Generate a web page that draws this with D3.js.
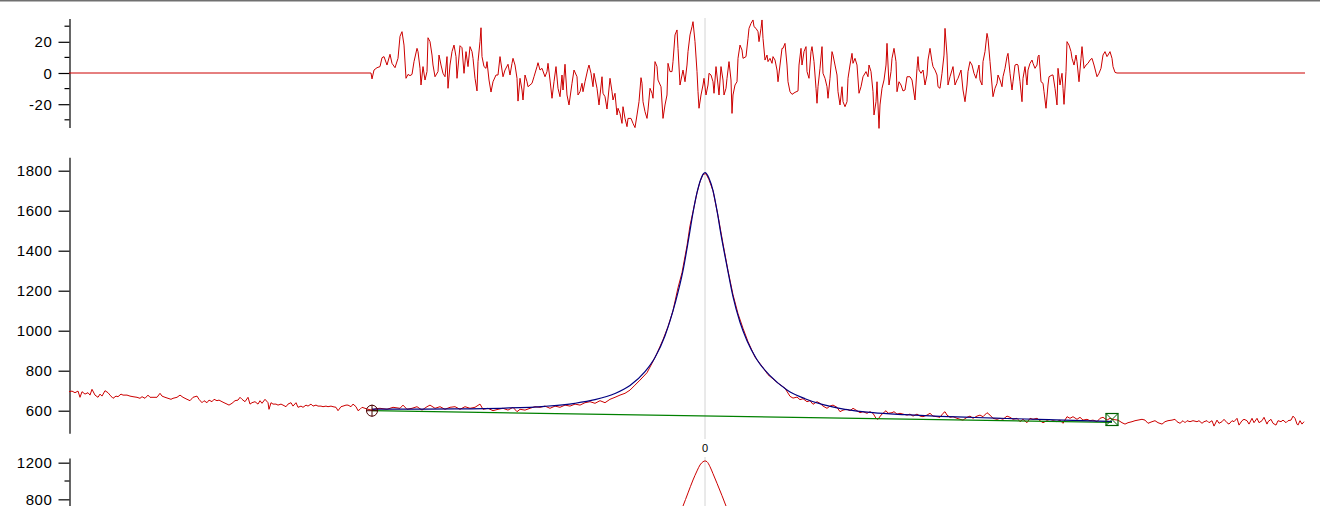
<!DOCTYPE html>
<html><head><meta charset="utf-8">
<script src="https://cdn.jsdelivr.net/npm/d3@7"></script>
<style>
html,body{margin:0;padding:0;background:#fff;overflow:hidden}
svg{display:block}
.tick text{font-family:"Liberation Sans",Arial,sans-serif;font-size:15px;letter-spacing:0.6px;fill:#000}
</style></head><body>
<svg id="c" width="1320" height="506"></svg>
<script>
// ---- data (x in channels relative to peak centre) ----
const xDomain = [-636, 600];
const xLabelTicks = [0];
const topTicks = [-20, 0, 20];
const topMinorTicks = [-30, -10, 10, 30];
const midTicks = [600, 800, 1000, 1200, 1400, 1600, 1800];
const bottomTicks = [800, 1200];
const bottomMinorTicks = [1000];

const residual = [
[-636,0],[-334,0],[-333,-3.8],[-331,1.9],[-328,3.4],[-325,4.1],[-323,9.8],[-321,10.5],[-318,5.1],[-315,12.0],[-313,6.2],[-310,3.4],[-307,9.4],[-305,23.5],[-303,26.5],[-301,17.9],[-299,-3.4],[-297,-0.9],[-295,-1.7],[-293,-0.9],[-291,7.3],[-288,15.8],[-287,13.7],[-285,3.0],[-284,-7.7],[-282,4.1],[-280,-4.5],[-278,0.9],[-277,22.6],[-275,20.1],[-273,11.5],[-272,5.1],[-270,-2.4],[-267,0.9],[-266,11.5],[-264,5.1],[-262,-0.2],[-260,-2.4],[-258,10.5],[-257,-9.8],[-255,5.1],[-253,13.7],[-251,17.9],[-249,10.5],[-248,-3.4],[-245,17.5],[-243,16.2],[-241,-0.2],[-239,13.7],[-237,4.1],[-235,16.9],[-233,13.7],[-232,9.4],[-230,-3.4],[-228,-11.5],[-227,7.3],[-225,20.1],[-224,29.0],[-223,10.5],[-221,4.1],[-219,3.0],[-218,7.3],[-216,-4.5],[-214,-12.2],[-212,-5.6],[-209,-1.3],[-207,-1.3],[-205,10.5],[-203,1.9],[-202,-2.4],[-200,1.9],[-197,5.6],[-195,-1.3],[-193,6.2],[-192,9.4],[-190,5.1],[-188,-3.4],[-187,-18.0],[-185,-3.4],[-183,-10.9],[-182,-17.3],[-180,-1.3],[-178,-5.6],[-177,-8.8],[-173,-6.6],[-171,-2.4],[-168,4.1],[-167,6.6],[-165,1.9],[-163,3.0],[-160,-2.4],[-158,0.9],[-157,6.2],[-155,-4.5],[-153,-16.2],[-151,-5.6],[-149,4.1],[-147,-9.8],[-145,-15.2],[-143,-1.3],[-142,-10.9],[-140,5.6],[-138,-14.1],[-136,-20.5],[-133,-6.6],[-131,1.9],[-128,-2.4],[-127,-14.1],[-125,-12.0],[-123,-6.6],[-122,-12.0],[-120,-5.6],[-117,3.0],[-116,5.1],[-114,-0.2],[-112,-8.8],[-111,-0.2],[-108,-9.8],[-106,-20.5],[-103,-2.4],[-102,-13.0],[-100,-15.2],[-98,-23.1],
[-95,-3.4],[-93,-12.0],[-92,-17.3],[-90,-13.0],[-88,-26.9],[-87,-22.6],[-85,-25.9],[-83,-32.3],[-82,-21.6],[-80,-29.1],[-78,-34.4],[-77,-29.1],[-74,-29.1],[-72,-32.3],[-70,-35.0],[-68,-26.9],[-66,-18.4],[-64,-3.0],[-63,-6.6],[-62,-18.4],[-60,-24.8],[-58,-29.1],[-57,-23.7],[-55,-9.8],[-53,-13.0],[-52,-16.2],[-50,7.3],[-48,4.1],[-47,-4.5],[-44,-8.8],[-42,-29.1],[-40,-20.5],[-38,-14.1],[-37,6.2],[-35,0.9],[-33,0.9],[-32,7.3],[-30,24.4],[-28,27.6],[-27,15.8],[-25,-7.7],[-23,-1.3],[-22,1.9],[-20,-5.6],[-18,5.1],[-17,13.7],[-15,24.4],[-13,29.7],[-12,32.9],[-10,20.1],[-8,0.9],[-7,-12.0],[-6,-22.6],[-4,-14.1],[-2,-7.7],[-1,-3.4],[1,-14.1],[3,-7.7],[4,-0.2],[6,-1.3],[8,-5.6],[9,-13.0],[11,4.1],[13,-7.7],[14,-14.1],[16,4.1],[18,-4.5],[19,-14.1],[21,-9.8],[22,-3.4],[24,7.3],[26,-4.5],[27,-25.9],[28,-14.1],[30,-7.7],[32,-5.6],[33,9.4],[35,17.9],[37,14.7],[38,9.4],[41,10.5],[43,22.2],[44,28.6],[46,31.8],[48,34.0],[49,29.7],[51,28.6],[53,26.5],[54,20.1],[56,28.6],[57,34.0],[58,22.2],[60,8.3],[62,11.5],[63,7.3],[65,9.4],[67,6.2],[68,10.5],[70,8.3],[72,1.9],[73,-5.6],[75,5.1],[77,15.8],[78,15.8],[80,19.0],[82,5.1],[83,-5.6],[85,-12.0],[87,-13.7],[90,-12.4],[93,-11.5],[94,5.1],[96,15.8],[97,5.1],[99,13.7],[101,16.9],[102,0.9],[104,-3.4],[106,13.7],[107,16.9],[109,7.3],[111,-9.8],[112,-19.4],[113,-8.8],[115,3.0],[117,16.9],[118,-0.2],[120,-3.4],[122,-8.8],[123,-16.2],[125,-3.4],[127,13.7],[128,11.5],[130,5.1],[132,-1.3],[133,-12.0],[135,-20.5],[137,-8.8],[138,-18.4],[140,-21.6],[142,-18.4],[143,-3.4],[145,5.1],[147,12.6],[148,6.2],[150,9.4],
[152,5.1],[154,-13.0],[156,-8.8],[158,-2.4],[161,0.9],[163,-2.4],[164,5.1],[166,0.9],[168,-12.0],[169,-26.9],[171,-18.4],[172,-5.6],[174,-35.5],[175,-20.5],[177,-9.8],[179,-4.5],[181,5.1],[182,19.0],[184,-7.7],[186,0.9],[187,9.4],[189,15.8],[191,7.3],[192,-12.0],[194,-5.6],[196,-7.7],[198,-11.5],[200,-10.9],[202,-2.4],[205,-2.4],[207,-4.5],[210,-17.3],[212,3.0],[213,10.5],[214,1.9],[216,-0.2],[218,1.9],[220,-7.7],[222,-1.3],[223,8.3],[225,15.8],[227,7.3],[228,4.1],[230,1.9],[232,-1.3],[233,-8.8],[235,-9.8],[237,-0.2],[239,11.5],[240,28.6],[242,11.5],[243,-7.7],[245,-2.4],[247,1.9],[248,4.1],[250,-7.7],[252,-4.5],[253,-3.4],[256,1.9],[258,-10.9],[260,-18.4],[262,-7.7],[263,0.9],[265,7.3],[267,5.1],[269,-0.2],[271,-3.4],[272,-0.2],[274,5.1],[275,-4.5],[277,-7.7],[278,7.3],[280,13.7],[282,25.4],[283,22.2],[285,7.3],[287,-7.7],[288,-15.2],[290,-9.8],[292,-6.6],[293,-1.3],[295,-4.5],[297,-8.8],[298,-2.4],[300,3.0],[302,10.5],[303,12.6],[305,-0.2],[307,-10.9],[308,-5.6],[310,5.1],[312,5.6],[313,5.1],[315,-5.6],[317,-18.4],[318,-3.4],[320,4.1],[322,-7.7],[323,1.9],[325,6.2],[327,8.3],[328,6.2],[330,3.0],[332,5.1],[333,10.5],[334,11.5],[336,-5.6],[338,-6.6],[339,-12.0],[341,-22.6],[343,-7.7],[344,-2.4],[347,-1.3],[348,-1.3],[350,-9.8],[352,-20.5],[353,3.0],[355,-7.7],[357,-0.2],[358,-9.8],[359,-20.1],[361,0.9],[362,20.1],[364,17.9],[366,13.7],[367,9.4],[369,5.1],[371,11.5],[372,7.3],[374,-5.6],[376,9.4],[377,16.9],[379,3.0],[381,5.1],[383,6.2],[385,8.3],[387,9.4],[389,5.1],[392,-2.4],[394,-0.2],[396,3.0],[398,11.5],[400,13.7],[402,10.5],[403,11.5],[405,13.7],[407,9.4],[408,4.1],[410,0.4],[412,0],[600,0]
];

const spectrum = [
[-636,695],[-633,698],[-630,690],[-627,698],[-625,667],[-623,695],[-620,683],[-617,690],[-615,678],[-613,707],[-610,678],[-607,667],[-605,683],[-603,673],[-600,700],[-597,690],[-595,678],[-592,662],[-589,673],[-587,670],[-584,683],[-582,678],[-578,678],[-575,673],[-572,670],[-568,667],[-565,662],[-563,670],[-560,662],[-557,678],[-555,667],[-552,667],[-548,667],[-545,687],[-543,673],[-540,667],[-537,662],[-534,657],[-532,662],[-528,667],[-525,678],[-522,667],[-518,657],[-515,650],[-512,667],[-508,673],[-506,657],[-503,640],[-501,650],[-498,640],[-496,653],[-493,645],[-491,657],[-488,650],[-486,653],[-483,645],[-481,640],[-478,633],[-476,628],[-473,637],[-470,650],[-467,653],[-465,667],[-463,657],[-460,645],[-457,667],[-455,633],[-453,640],[-450,645],[-447,633],[-445,650],[-443,637],[-440,657],[-437,640],[-436,607],[-434,640],[-432,633],[-429,633],[-427,628],[-424,633],[-422,628],[-419,620],[-417,633],[-414,640],[-412,623],[-409,640],[-407,617],[-404,623],[-402,617],[-399,628],[-397,623],[-394,633],[-392,623],[-389,628],[-387,623],[-384,623],[-382,620],[-379,623],[-377,620],[-374,623],[-372,620],[-369,617],[-367,600],[-364,620],[-362,623],[-359,628],[-357,628],[-354,620],[-352,633],[-349,620],[-347,600],[-345,607],[-343,617],[-340,612],[-337,607],[-333,603],
[-329,610],[-325,612],[-318,607],[-312,617],[-305,612],[-302,628],[-298,607],[-293,612],[-288,620],[-283,603],[-278,620],[-275,628],[-270,612],[-265,620],[-260,607],[-255,617],[-250,620],[-245,607],[-240,620],[-235,612],[-230,617],[-225,633],[-222,607],[-217,612],[-212,600],[-207,607],[-202,612],[-197,603],[-192,617],[-188,595],[-185,607],[-180,603],[-175,612],[-170,620],[-165,617],[-160,623],[-155,612],[-150,623],[-145,617],[-140,628],[-135,623],[-130,633],[-125,628],[-120,640],[-115,645],[-110,637],[-105,650],[-100,640],[-95,657],[-90,667],[-85,678],[-80,687],[-75,703],[-70,728],
[-65,753],[-58,790],[-53,837],[-48,887],[-42,955],[-37,1020],[-32,1100],[-27,1215],[-23,1290],[-18,1425],[-15,1525],[-12,1595],[-8,1690],[-5,1745],[-2,1782],[1,1785],[4,1755],[8,1700],[13,1575],[18,1435],[23,1300],[28,1180],[33,1085],[38,1012],[43,945],[50,868],[57,822],[63,780],[72,742],[80,712],
[85,672],[88,663],[92,668],[95,655],[98,660],[102,645],[105,650],[108,632],[112,645],[115,637],[118,623],[122,612],[125,623],[128,628],[132,617],[135,595],[138,603],[142,607],[145,600],[148,612],[152,600],[155,590],[158,595],[162,587],[165,595],[168,587],[171,562],[173,557],[176,578],[178,587],[181,600],[183,587],[187,590],[189,595],[192,583],[195,587],[198,583],[202,578],[205,583],[208,573],[212,583],[215,573],[218,570],[222,578],[225,587],[228,573],[232,570],[235,567],[238,587],[240,595],[242,578],[245,567],[248,570],[252,562],[255,557],[258,553],[262,567],[265,573],[268,562],[272,573],[275,578],[278,570],[282,590],[285,578],[288,562],[292,557],[295,562],[298,557],[302,573],[305,567],[308,557],[312,562],[315,545],[318,557],[322,540],[325,562],[328,557],[332,562],[335,550],[338,540],[342,550],[345,545],[348,550],[352,545],[355,553],[358,537],[362,570],[365,562],[368,570],[372,557],[375,567],[378,553],[382,557],[385,550],[388,553],[392,545],[395,562],[398,567],[402,553],[405,562],[408,556],
[413,553],[417,540],[420,533],[423,540],[427,545],[430,550],[433,553],[437,557],[440,553],[443,537],[447,545],[450,550],[453,540],[457,533],[460,545],[463,550],[467,553],[470,557],[472,545],[475,537],[478,550],[480,540],[482,550],[485,545],[488,550],[492,545],[494,550],[497,537],[499,545],[502,550],[504,540],[507,550],[509,523],[512,553],[514,537],[517,545],[519,557],[522,540],[524,533],[527,550],[529,545],[532,562],[534,528],[537,550],[539,557],[542,550],[544,533],[547,562],[549,540],[552,562],[554,540],[557,550],[559,567],[562,533],[563,545],[566,557],[568,537],[571,528],[573,550],[576,545],[578,553],[581,540],[583,550],[586,553],[588,573],[590,562],[592,533],[593,528],[595,550],[597,533],[599,545]
];

const fitCurve = [
[-333,608],[-300,608],[-250,609],[-200,613],[-160,622],[-130,637],[-110,655],[-90,686],[-75,726],[-60,795],[-50,866],[-40,975],[-30,1135],[-22,1300],[-16,1470],[-12,1590],[-8,1690],[-4,1760],[0,1790],[4,1762],[8,1700],[12,1600],[16,1480],[22,1322],[28,1170],[35,1042],[42,950],[52,855],[65,775],[82,704],[100,660],[118,630],[140,607],[168,590],[200,580],[235,572],[270,566],[302,561],[350,554],[407,546]
];

const baseline = [[-333,600],[407,542]];
const startMarker = [-333, 600];
const endMarker = [407, 556];

const bottomCurve = [[-23,700],[-22,727],[-17,870],[-12,1011],[-8,1110],[-5,1175],[-2,1210],[0,1219],[2,1210],[5,1156],[8,1080],[12,975],[17,840],[21,727],[22,700]];

// ---- drawing ----
const svg = d3.select('#c');
const W = 1320, H = 506;
const red = '#cc0000', navy = '#000080', green = '#008000';

const x = d3.scaleLinear().domain(xDomain).range([69, 1305]);
const yTop = d3.scaleLinear().domain([-35, 35]).range([127.6, 18.4]);
const yMid = d3.scaleLinear().domain([487, 1867]).range([433.3, 157.3]);
const yBot = d3.scaleLinear().domain([700, 1251]).range([508.5, 458]);

// top border
svg.append('rect').attr('x',0).attr('y',0).attr('width',W).attr('height',1.5).attr('fill','#707070');

// centre reference line
svg.append('line').attr('x1',x(0)).attr('x2',x(0)).attr('y1',18).attr('y2',439)
  .attr('stroke','#d4d4d4').attr('stroke-width',1);
svg.append('line').attr('x1',x(0)).attr('x2',x(0)).attr('y1',457).attr('y2',H)
  .attr('stroke','#d4d4d4').attr('stroke-width',1);

function axis(scale, ticks, minor, tx) {
  const g = svg.append('g').attr('transform', `translate(${tx},0)`);
  g.call(d3.axisLeft(scale).tickValues(ticks).tickSize(11).tickSizeOuter(0).tickPadding(6)
     .tickFormat(d => d < 0 ? '-' + Math.abs(d) : String(d)));
  g.select('.domain').attr('stroke','#000').attr('stroke-width',1.2);
  g.selectAll('.tick line').attr('stroke','#000').attr('stroke-width',1.2);
  g.selectAll('.tick text').attr('dy','0.34em');
  if (minor.length) {
    g.selectAll('.minor').data(minor).join('line').attr('class','minor')
      .attr('x1',-5).attr('x2',0).attr('y1',d=>scale(d)).attr('y2',d=>scale(d))
      .attr('stroke','#000').attr('stroke-width',1.2);
  }
  return g;
}
axis(yTop, topTicks, topMinorTicks, 69.5);
axis(yMid, midTicks, [], 69.5);
axis(yBot, bottomTicks, bottomMinorTicks, 69.5);

// x label "0"
svg.selectAll('.xl').data(xLabelTicks).join('text').attr('class','xl')
  .attr('x', d => x(d)).attr('y', 451.5).attr('text-anchor','middle')
  .attr('font-family','"Liberation Sans",Arial,sans-serif').attr('font-size',11).attr('fill','#000')
  .text(d => d);

// residual
svg.append('path').datum(residual)
  .attr('d', d3.line().x(d=>x(d[0])).y(d=>yTop(d[1])))
  .attr('fill','none').attr('stroke',red).attr('stroke-width',1);

// main panel
svg.append('path').datum(spectrum)
  .attr('d', d3.line().x(d=>x(d[0])).y(d=>yMid(d[1])))
  .attr('fill','none').attr('stroke',red).attr('stroke-width',1);
svg.append('path').datum(baseline)
  .attr('d', d3.line().x(d=>x(d[0])).y(d=>yMid(d[1])))
  .attr('fill','none').attr('stroke',green).attr('stroke-width',1.2);
svg.append('path').datum(fitCurve)
  .attr('d', d3.line().curve(d3.curveMonotoneX).x(d=>x(d[0])).y(d=>yMid(d[1])))
  .attr('fill','none').attr('stroke',navy).attr('stroke-width',1.2);

// markers
const sm = svg.append('g').attr('transform',`translate(${x(startMarker[0])},${yMid(startMarker[1])})`);
sm.append('circle').attr('r',5.5).attr('fill','none').attr('stroke','#4a0000').attr('stroke-width',1);
sm.append('line').attr('x1',-6).attr('x2',6).attr('y1',0).attr('y2',0).attr('stroke','#4a0000');
sm.append('line').attr('x1',0).attr('x2',0).attr('y1',-6).attr('y2',6).attr('stroke','#4a0000');

const em = svg.append('g').attr('transform',`translate(${x(endMarker[0])},${yMid(endMarker[1])})`);
em.append('rect').attr('x',-6).attr('y',-6).attr('width',12).attr('height',12)
  .attr('fill','none').attr('stroke','#006000').attr('stroke-width',1.2);
em.append('line').attr('x1',-6).attr('x2',6).attr('y1',-6).attr('y2',6).attr('stroke','#006000');
em.append('line').attr('x1',-6).attr('x2',6).attr('y1',6).attr('y2',-6).attr('stroke','#006000');

// bottom panel
svg.append('path').datum(bottomCurve)
  .attr('d', d3.line().curve(d3.curveMonotoneX).x(d=>x(d[0])).y(d=>yBot(d[1])))
  .attr('fill','none').attr('stroke',red).attr('stroke-width',1);
</script>
</body></html>
